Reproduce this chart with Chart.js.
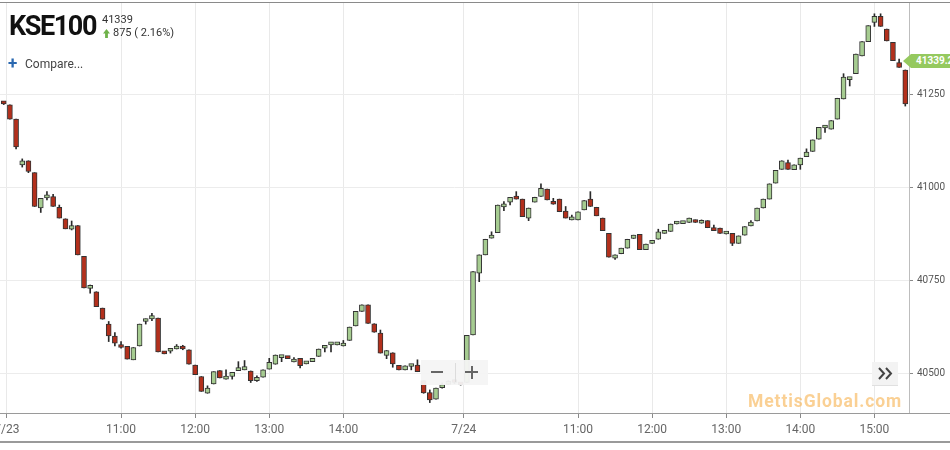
<!DOCTYPE html>
<html>
<head>
<meta charset="utf-8">
<script src="https://cdn.jsdelivr.net/npm/chart.js@4.4.0/dist/chart.umd.min.js"></script>
<style>
  body { margin: 0; background: #fff; font-family: Roboto, Arial, sans-serif; }
  #wrap { position: relative; width: 950px; height: 450px; overflow: hidden; background: #fff; }
  #c { position: absolute; left: 0; top: 0; }
  .abs { position: absolute; white-space: nowrap; }
  #topline { left: 0; top: 2px; width: 950px; height: 1px; background: #8a8a8a; }
  #botline { left: 0; top: 441px; width: 950px; height: 2px; background: #9a9a9a; }
  #title { left: 9px; top: 13px; font: bold 27px/27px Roboto, Arial, sans-serif; letter-spacing: -1.4px; color: #111; }
  #last { left: 102px; top: 13.5px; font: 11px/11px Roboto, Arial, sans-serif; color: #333; }
  #arrow { left: 103px; top: 29px; width: 7px; height: 9px; background: #6fb24a;
    clip-path: polygon(50% 0, 100% 50%, 70% 50%, 70% 100%, 30% 100%, 30% 50%, 0 50%); }
  #chg { left: 113px; top: 27.3px; font: 11px/11px Roboto, Arial, sans-serif; color: #333; }
  #plus { left: 8px; top: 55px; font: bold 17px/17px Roboto, Arial, sans-serif; color: #2a68b0; }
  #compare { left: 25px; top: 57.7px; font: 12px/12px Roboto, Arial, sans-serif; color: #444; }
  #zoombox { left: 421px; top: 360px; width: 67px; height: 25px; background: rgba(244,244,244,0.95); }
  #zoombox .sep { position: absolute; left: 34px; top: 3px; width: 1px; height: 19px; background: #dcdcdc; }
  #zoombox .minus { position: absolute; left: 10px; top: 11px; width: 12px; height: 2px; background: #666; }
  #zoombox .ph { position: absolute; left: 44px; top: 11px; width: 13px; height: 2px; background: #666; }
  #zoombox .pv { position: absolute; left: 49.5px; top: 5.5px; width: 2px; height: 13px; background: #666; }
  #fwd { left: 872px; top: 362px; width: 26px; height: 23px; background: #f3f3f3; border-bottom: 1px solid #e0e0e0; }
  #mark { left: 748px; top: 391px; font: bold 17.5px/20px Roboto, Arial, sans-serif; letter-spacing: 0.9px; color: rgba(245,170,60,0.55); }
  #tag { left: 903px; top: 54px; width: 60px; height: 14px; background: #95c95f;
    clip-path: polygon(0 50%, 8px 0, 100% 0, 100% 100%, 8px 100%); }
  #tag span { position: absolute; left: 13px; top: 2px; font: bold 10px/10px Roboto, Arial, sans-serif; color: #fff; }
</style>
</head>
<body>
<div id="wrap">
  <canvas id="c" width="950" height="450"></canvas>
  <div class="abs" id="topline"></div>
  <div class="abs" id="botline"></div>
  <div class="abs" id="title">KSE100</div>
  <div class="abs" id="last">41339</div>
  <div class="abs" id="arrow"></div>
  <div class="abs" id="chg">875 ( 2.16%)</div>
  <div class="abs" id="plus">+</div>
  <div class="abs" id="compare">Compare...</div>
  <div class="abs" id="zoombox"><div class="minus"></div><div class="sep"></div><div class="ph"></div><div class="pv"></div></div>
  <div class="abs" id="fwd">
    <svg width="26" height="23"><polyline points="7,6 12,11.5 7,17" fill="none" stroke="#444" stroke-width="2"/><polyline points="14,6 19,11.5 14,17" fill="none" stroke="#444" stroke-width="2"/></svg>
  </div>
  <div class="abs" id="mark">MettisGlobal.com</div>
  <div class="abs" id="tag"><span>41339.2</span></div>
</div>
<script>
// 5-minute candles, first one is the last bar of the previous session
const firstSlot = -1;
const opens = [
  41226, 41221, 41183, 41060, 41071, 41039, 40944, 40971, 40975, 40946,
  40915, 40887, 40897, 40814, 40728, 40719, 40675, 40632, 40600, 40575,
  40572, 40536, 40573, 40639, 40646, 40648, 40558, 40559, 40565, 40572,
  40563, 40522, 40491, 40446, 40471, 40507, 40484, 40491, 40507, 40509,
  40506, 40480, 40489, 40511, 40524, 40542, 40545, 40530, 40540, 40525,
  40531, 40545, 40567, 40576, 40576, 40573, 40588, 40627, 40666, 40684,
  40633, 40608, 40548, 40555, 40521, 40509, 40518, 40522, 40480, 40448,
  40430, 40461, 40470, 40478, 40470,
  40475, 40603, 40769, 40818, 40863, 40878, 40947, 40960, 40973, 40968,
  40917, 40960, 40975, 40995, 40961, 40968, 40936, 40912, 40912, 40939,
  40968, 40946, 40917, 40876, 40809, 40821, 40836, 40862, 40873, 40832,
  40849, 40860, 40876, 40881, 40901, 40902, 40905, 40912, 40903, 40910,
  40891, 40890, 40874, 40876, 40849, 40871, 40896, 40909, 40944, 40968,
  41011, 41048, 41066, 41047, 41060, 41082, 41096, 41129, 41159, 41156,
  41183, 41237, 41289, 41305, 41353, 41391, 41443, 41459, 41425, 41389,
  41335, 41315
];
const highs = [
  41228, 41221, 41183, 41076, 41071, 41039, 40970, 40988, 40981, 40952,
  40915, 40909, 40897, 40814, 40737, 40719, 40675, 40639, 40609, 40585,
  40572, 40569, 40632, 40646, 40661, 40648, 40558, 40566, 40577, 40575,
  40563, 40522, 40491, 40466, 40504, 40507, 40509, 40502, 40531, 40534,
  40506, 40493, 40509, 40540, 40549, 40547, 40545, 40542, 40540, 40531,
  40540, 40565, 40573, 40583, 40583, 40588, 40624, 40666, 40684, 40684,
  40633, 40616, 40561, 40555, 40521, 40520, 40524, 40536, 40480, 40455,
  40460, 40474, 40480, 40482, 40471,
  40602, 40773, 40818, 40860, 40880, 40952, 40961, 40973, 40988, 40968,
  40944, 40973, 41009, 40995, 40970, 40968, 40948, 40925, 40934, 40964,
  40988, 40946, 40917, 40876, 40818, 40836, 40860, 40871, 40873, 40847,
  40857, 40887, 40882, 40901, 40908, 40908, 40917, 40912, 40912, 40910,
  40898, 40890, 40881, 40876, 40869, 40894, 40910, 40944, 40968, 41009,
  41045, 41071, 41073, 41060, 41078, 41103, 41127, 41161, 41165, 41179,
  41239, 41305, 41293, 41358, 41391, 41434, 41466, 41466, 41425, 41389,
  41344, 41315
];
const lows = [
  41222, 41183, 41103, 41054, 41039, 40948, 40932, 40966, 40948, 40917,
  40888, 40885, 40818, 40729, 40715, 40679, 40645, 40585, 40573, 40567,
  40538, 40536, 40573, 40632, 40641, 40557, 40552, 40554, 40565, 40563,
  40524, 40496, 40451, 40446, 40471, 40487, 40484, 40484, 40507, 40509,
  40475, 40478, 40489, 40511, 40524, 40531, 40539, 40530, 40514, 40525,
  40531, 40545, 40557, 40557, 40576, 40573, 40588, 40627, 40666, 40634,
  40610, 40554, 40539, 40516, 40509, 40509, 40509, 40504, 40446, 40421,
  40430, 40460, 40470, 40472, 40468,
  40475, 40603, 40746, 40818, 40863, 40878, 40937, 40952, 40968, 40921,
  40910, 40960, 40975, 40966, 40954, 40934, 40917, 40912, 40912, 40939,
  40948, 40923, 40883, 40812, 40806, 40821, 40836, 40862, 40832, 40832,
  40849, 40860, 40876, 40881, 40901, 40902, 40905, 40905, 40903, 40891,
  40883, 40876, 40874, 40843, 40849, 40871, 40896, 40909, 40944, 40968,
  41011, 41048, 41048, 41047, 41048, 41082, 41096, 41129, 41147, 41156,
  41183, 41237, 41272, 41305, 41353, 41391, 41432, 41432, 41393, 41340,
  41322, 41218
];
const closes = [
  41224, 41183, 41108, 41071, 41042, 40948, 40970, 40978, 40948, 40917,
  40888, 40897, 40818, 40729, 40735, 40679, 40645, 40600, 40581, 40569,
  40538, 40569, 40632, 40646, 40655, 40557, 40552, 40566, 40572, 40565,
  40524, 40496, 40451, 40460, 40504, 40487, 40491, 40502, 40514, 40518,
  40480, 40489, 40509, 40529, 40549, 40547, 40539, 40536, 40520, 40531,
  40540, 40565, 40573, 40583, 40583, 40581, 40624, 40666, 40684, 40634,
  40610, 40554, 40561, 40525, 40509, 40520, 40524, 40504, 40447, 40428,
  40460, 40466, 40478, 40475, 40469,
  40602, 40773, 40818, 40860, 40869, 40952, 40954, 40973, 40968, 40921,
  40944, 40973, 40997, 40966, 40954, 40934, 40917, 40918, 40934, 40964,
  40948, 40923, 40883, 40812, 40818, 40836, 40860, 40871, 40832, 40847,
  40857, 40880, 40882, 40901, 40908, 40907, 40917, 40905, 40909, 40891,
  40883, 40876, 40881, 40849, 40869, 40894, 40906, 40944, 40968, 41009,
  41045, 41071, 41048, 41060, 41078, 41094, 41127, 41161, 41165, 41179,
  41239, 41296, 41293, 41358, 41391, 41434, 41459, 41432, 41393, 41340,
  41322, 41224
];

// x axis labels (slot positions of the time marks)
const tickSlots = [-0.5, 18, 30, 42, 54, 73.5, 92, 104, 116, 128, 140];
const tickLabels = ['7/23', '11:00', '12:00', '13:00', '14:00', '7/24', '11:00', '12:00', '13:00', '14:00', '15:00'];
const priceTicks = [40500, 40750, 41000, 41250];

const upColor = '#a6cc91';
const downColor = '#b3301c';

const wicks = opens.map((o, i) => ({ x: firstSlot + i, y: [lows[i], highs[i]] }));
const bodies = opens.map((o, i) => ({ x: firstSlot + i, y: [o, closes[i]] }));
const bodyColors = opens.map((o, i) => closes[i] >= o ? upColor : downColor);

const axisLine = {
  id: 'axisLine',
  afterDraw(chart) {
    const ctx = chart.ctx;
    const y = Math.round(chart.chartArea.bottom) + 0.5;
    ctx.save();
    ctx.strokeStyle = '#9a9a9a';
    ctx.lineWidth = 1;
    ctx.beginPath();
    ctx.moveTo(0, y);
    ctx.lineTo(chart.width, y);
    ctx.stroke();
    ctx.restore();
  }
};

new Chart(document.querySelector('#c'), {
  type: 'bar',
  data: {
    datasets: [{
      label: 'wick',
      data: wicks,
      backgroundColor: '#2a2a2a',
      barThickness: 1,
      grouped: false,
      order: 2
    }, {
      label: 'body',
      data: bodies,
      backgroundColor: bodyColors,
      borderColor: '#333',
      borderWidth: 1,
      borderSkipped: false,
      barThickness: 5,
      minBarLength: 3,
      grouped: false,
      order: 1
    }]
  },
  options: {
    responsive: false,
    animation: false,
    layout: { autoPadding: false, padding: { top: 3, left: 0, right: 0, bottom: 0 } },
    plugins: { legend: { display: false }, tooltip: { enabled: false } },
    scales: {
      x: {
        type: 'linear',
        offset: false,
        min: -1.603,
        max: 145.6,
        afterBuildTicks: axis => { axis.ticks = tickSlots.map(v => ({ value: v })); },
        afterFit: s => { s.height = 37; s.paddingLeft = 0; s.paddingRight = 0; },
        border: { display: false },
        grid: { offset: false, color: '#e9e9e9', tickColor: '#8a8a8a', tickLength: 5 },
        ticks: {
          autoSkip: false,
          maxRotation: 0,
          padding: 5,
          color: '#666',
          font: { family: 'Roboto', size: 12 },
          callback: (v, i) => tickLabels[i]
        }
      },
      y: {
        position: 'right',
        min: 40393,
        max: 41495,
        afterBuildTicks: axis => { axis.ticks = priceTicks.map(v => ({ value: v })); },
        afterFit: s => { s.width = 41; s.paddingTop = 0; s.paddingBottom = 0; },
        border: { color: '#bdbdbd' },
        grid: { color: '#ececec', tickColor: '#8a8a8a', tickLength: 4 },
        ticks: {
          padding: 4,
          color: '#555',
          font: { family: 'Roboto', size: 10 },
          callback: v => String(v)
        }
      }
    }
  },
  plugins: [axisLine]
});
</script>
</body>
</html>
